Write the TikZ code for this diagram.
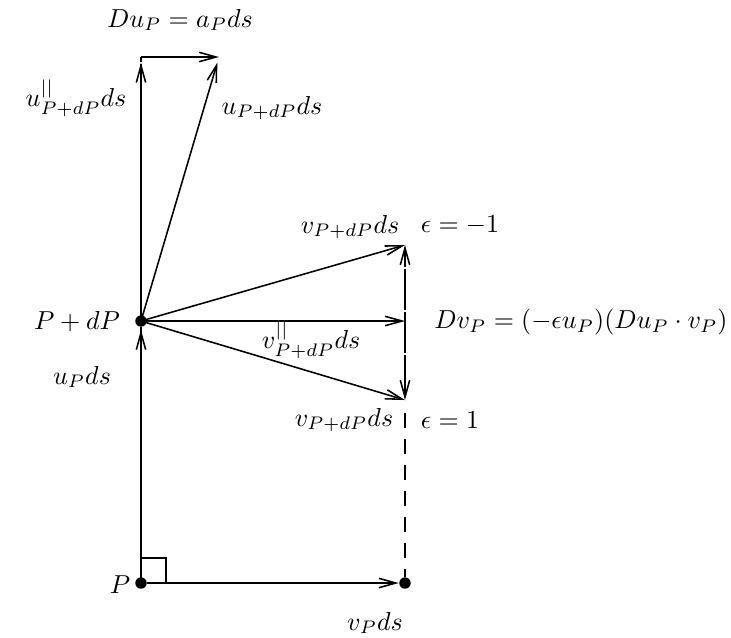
\documentclass[tikz,border=0pt]{standalone}
\usetikzlibrary{arrows.meta,calc}
\begin{document}
\begin{tikzpicture}[x=0.385pt,y=-0.385pt,
  vec/.style={line width=0.6pt,-{Straight Barb[length=6.5pt,width=3.6pt]}},
  fine/.style={line width=0.6pt,dash pattern=on 16pt off 0.6pt},
  dot/.style={circle,fill=black,inner sep=0pt,minimum size=4.4pt},
  lbl/.style={inner sep=0pt}]
\useasboundingbox (0,0) rectangle (731,637);
% points
\node[dot] (P) at (141,583) {};
\node[dot] (Q) at (141,321) {};
\node[dot] (R) at (405,583) {};
\coordinate (T) at (141,57);
\coordinate (U) at (219,57);
\coordinate (A) at (405,245);
\coordinate (M) at (405,321);
\coordinate (B) at (405,400);
\coordinate (D) at (405,405);
% vertical u lines
\draw[fine] (P) -- (Q);
\draw[vec,shorten >=3.4pt] (P.center) -- (Q.center);
\draw[fine] (Q.center) -- (T);
\draw[vec,shorten >=2.2pt] (Q.center) -- (T);
% Du_P
\draw[vec] (T) -- (U);
\draw[vec,shorten >=2.2pt] (Q.center) -- (U);
% v vectors
\draw[vec] (Q.center) -- (A);
\draw[vec] (Q.center) -- (M);
\draw[vec] (Q.center) -- (B);
\draw[fine,{Straight Barb[length=6.5pt,width=3.6pt]}-{Straight Barb[length=6.5pt,width=3.6pt]}] (B) -- (A);
% dashed to bottom
\draw[line width=0.7pt,dash pattern=on 6pt off 4pt,dash phase=-3pt] (D) -- (R);
% bottom arrow
\draw[vec] (P) -- (R);
% right angle
\draw[line width=0.7pt] ($(P.center)+(0,-25)$) -- ++(25,0) -- ++(0,25);
% labels
\node[lbl] (l1) at (180,20) {$Du_P = a_P ds$};
\node[lbl] (l2) at (76,98) {$u^{||}_{P+dP}ds$};
\node[lbl] (l3) at (272,108) {$u_{P+dP}ds$};
\node[lbl] (l4) at (350,227) {$v_{P+dP}ds$};
\node[lbl] (l5) at (460,225) {$\epsilon = -1$};
\node[lbl] (l6) at (77,322) {$P + dP$};
\node[lbl] (l7) at (311,340) {$v^{||}_{P+dP}ds$};
\node[lbl] (l8) at (581,322) {$Dv_P = (-\epsilon u_P)(Du_P \cdot v_P)$};
\node[lbl] (l9) at (82,377) {$u_P ds$};
\node[lbl] (l10) at (344,420) {$v_{P+dP}ds$};
\node[lbl] (l11) at (450,420) {$\epsilon = 1$};
\node[lbl] (l12) at (120,585) {$P$};
\node[lbl] (l13) at (375,623) {$v_P ds$};
\end{tikzpicture}
\end{document}
